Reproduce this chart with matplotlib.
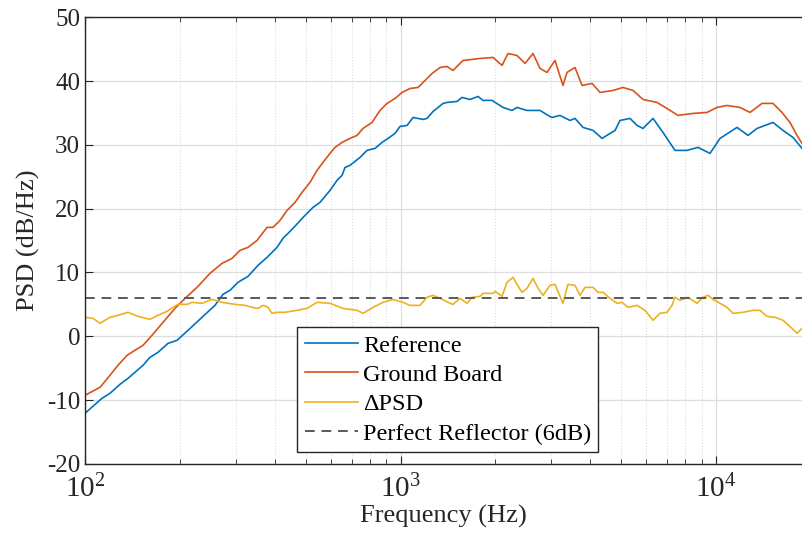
import matplotlib
matplotlib.use("Agg")
import matplotlib.pyplot as plt
import numpy as np
from matplotlib.ticker import LogLocator, FixedLocator, NullFormatter

plt.rcParams['font.family'] = ['Liberation Serif', 'DejaVu Serif']
plt.rcParams['mathtext.fontset'] = 'stix'
plt.rcParams['axes.unicode_minus'] = False

# Reference PSD
ref_f = [100, 113.2, 120.0, 129.1, 136.9, 152.7, 160.7, 170.3, 183.3, 195.7,
         212.1, 234.9, 258.2, 273.8, 288.1, 305.4, 328.6, 353.5, 377.5, 406.0,
         424.2, 456.4, 490.9, 528.1, 555.7, 597.8, 629.2, 652.6, 667.0, 691.8,
         744.2, 783.2, 830.4, 873.8, 913.0, 960.8, 996.3, 1049, 1096, 1179,
         1213, 1268, 1364, 1404, 1511, 1566, 1661, 1761, 1826, 1950,
         2113, 2256, 2340, 2518, 2769, 2934, 3021, 3202, 3445, 3573,
         3789, 4075, 4353, 4511, 4786, 4962, 5339, 5619, 5869, 6314,
         6792, 7413, 8091, 8769, 9572, 10297, 11658, 12630, 13489, 15156,
         16305, 17543, 18731]
ref_db = [-12.06, -9.71, -8.93, -7.52, -6.58, -4.54, -3.29, -2.51, -1.10, -0.63,
          0.94, 2.98, 4.85, 6.58, 7.20, 8.46, 9.40, 11.12, 12.37, 13.94,
          15.35, 16.91, 18.63, 20.20, 20.98, 22.86, 24.43, 25.21, 26.46, 26.78,
          28.03, 29.13, 29.44, 30.38, 31.01, 31.79, 32.88, 33.04, 34.29, 33.98,
          34.14, 35.23, 36.49, 36.64, 36.80, 37.43, 37.11, 37.58, 36.96, 36.96,
          35.86, 35.39, 35.86, 35.39, 35.39, 34.61, 34.29, 34.61, 33.82, 34.14,
          32.73, 32.26, 31.01, 31.48, 32.26, 33.82, 34.14, 33.04, 32.57, 34.14,
          31.94, 29.13, 29.13, 29.60, 28.66, 31.01, 32.73, 31.48, 32.57, 33.51,
          32.26, 31.16, 29.44]

# Ground board PSD
gnd_f = [100, 111.6, 120.0, 127.2, 135.9, 144.0, 152.7, 163.1, 176.7, 192.9,
         207.5, 226.5, 249.0, 271.8, 292.4, 310.0, 328.6, 351.0, 377.5, 394.3,
         415.0, 436.9, 463.1, 487.3, 516.6, 543.7, 568.1, 597.8, 620.1, 652.6,
         691.8, 728.1, 760.6, 812.3, 861.0, 906.3, 960.8, 1011, 1072, 1137,
         1196, 1259, 1334, 1404, 1467, 1578, 1786, 1965, 2098, 2191,
         2340, 2481, 2630, 2769, 2912, 3088, 3273, 3370, 3573, 3762,
         4046, 4290, 4715, 5072, 5457, 5869, 6501, 6993, 7578, 8453,
         9365, 10073, 10837, 11916, 12817, 13990, 15156, 16186, 17161, 18057,
         18731]
gnd_db = [-9.24, -7.99, -6.11, -4.54, -2.98, -2.19, -1.41, 0.16, 2.19, 4.38,
          5.95, 7.67, 9.87, 11.43, 12.21, 13.47, 13.94, 15.03, 17.07, 17.07,
          18.16, 19.73, 20.98, 22.55, 24.12, 25.99, 27.25, 28.66, 29.60, 30.38,
          31.01, 31.48, 32.57, 33.51, 35.39, 36.49, 37.27, 38.21, 38.83, 38.99,
          40.09, 41.18, 42.12, 42.28, 41.65, 43.22, 43.53, 43.69, 42.44, 44.31,
          44.00, 42.75, 44.31, 41.97, 41.34, 43.22, 39.30, 41.34, 42.12, 39.30,
          39.62, 38.21, 38.52, 38.99, 38.52, 37.11, 36.64, 35.70, 34.61, 34.92,
          35.08, 35.86, 36.17, 35.86, 35.08, 36.49, 36.49, 35.08, 33.51, 31.48,
          30.22]

# Difference
dpsd_f = [100, 106.0, 111.6, 120.0, 127.2, 136.9, 147.2, 160.7, 170.3, 181.9,
          190.1, 197.2, 210.5, 218.4, 234.9, 252.6, 271.8, 298.8, 321.5, 338.4,
          353.5, 366.6, 380.2, 391.4, 406.0, 430.5, 469.8, 505.4, 543.7, 597.8,
          657.3, 728.1, 760.6, 818.3, 880.2, 946.9, 1018, 1072, 1153, 1213,
          1268, 1334, 1435, 1467, 1544, 1625, 1685, 1786, 1826, 1965,
          1993, 2098, 2176, 2273, 2340, 2427, 2518, 2630, 2729, 2829,
          2977, 3088, 3273, 3395, 3573, 3707, 3845, 4075, 4227, 4385,
          4613, 4857, 5036, 5261, 5619, 5957, 6314, 6645, 6993, 7253,
          7413, 7690, 8150, 8705, 9094, 9433, 9784, 10297, 10837, 11322,
          12179, 13100, 13788, 14508, 15380, 16305, 17414, 18057, 18731]
dpsd_db = [2.98, 2.82, 2.04, 2.98, 3.29, 3.76, 3.13, 2.66, 3.29, 3.91,
           4.54, 5.01, 5.01, 5.32, 5.17, 5.79, 5.32, 5.01, 4.85, 4.54,
           4.38, 4.85, 4.54, 3.60, 3.76, 3.76, 4.07, 4.38, 5.32, 5.17,
           4.38, 4.07, 3.60, 4.54, 5.32, 5.79, 5.32, 4.85, 4.85, 6.11,
           6.42, 5.95, 5.17, 5.01, 5.95, 5.17, 6.11, 6.26, 6.73, 6.73,
           7.05, 6.26, 8.46, 9.24, 8.14, 6.89, 7.52, 9.08, 7.52, 6.42,
           7.99, 8.14, 5.17, 8.14, 7.99, 6.42, 7.67, 7.67, 6.89, 6.89,
           5.95, 5.17, 5.32, 4.54, 4.85, 4.07, 2.51, 3.60, 3.76, 4.85,
           6.11, 5.64, 6.11, 5.17, 6.11, 6.42, 5.79, 5.17, 4.54, 3.60,
           3.76, 4.07, 4.07, 3.13, 2.98, 2.51, 1.25, 0.47, 1.25]

perfect_db = 6
x_range = [100, 18731]
y_range = [-20, 50]
y_ticks = [-20, -10, 0, 10, 20, 30, 40, 50]

fig = plt.figure(figsize=(8.02, 5.37), dpi=100)
ax = fig.add_axes([0.106, 0.136, 0.894, 0.832])

ax.semilogx(ref_f, ref_db, color='#0072BD', lw=1.2, label='Reference')
ax.semilogx(gnd_f, gnd_db, color='#D95319', lw=1.2, label='Ground Board')
ax.semilogx(dpsd_f, dpsd_db, color='#EDB120', lw=1.2, label='ΔPSD')
ax.axhline(perfect_db, color='#595959', lw=1.4, ls=(0, (5, 3.5)),
           label='Perfect Reflector (6dB)')

ax.set_xlim(x_range)
ax.set_ylim(y_range)
ax.yaxis.set_major_locator(FixedLocator(y_ticks))
ax.xaxis.set_major_locator(LogLocator(base=10))
ax.xaxis.set_minor_locator(LogLocator(base=10, subs=np.arange(2, 10)))
ax.xaxis.set_minor_formatter(NullFormatter())

ax.grid(True, which='major', color='#dedede', lw=0.9)
ax.grid(True, which='minor', axis='x', color='#dcdcdc', lw=0.8, ls=':')
ax.set_axisbelow(True)

for s in ['left', 'top', 'bottom']:
    ax.spines[s].set_color('#262626')
    ax.spines[s].set_linewidth(1.0)
ax.spines['right'].set_visible(False)

ax.tick_params(which='both', direction='in', top=True, right=False,
               colors='#262626', labelsize=18)
ax.tick_params(which='major', length=6)
ax.tick_params(which='minor', length=3.5)
ax.tick_params(axis='x', which='major', pad=8, labelsize=21)

ax.set_xlabel('Frequency (Hz)', fontsize=19, color='#262626', labelpad=1)
ax.set_ylabel('PSD (dB/Hz)', fontsize=19, color='#262626', labelpad=5)

leg = ax.legend(loc='lower left', bbox_to_anchor=(0.296, 0.027),
                borderaxespad=0, fontsize=17.5, fancybox=False, framealpha=1,
                edgecolor='#262626', handlelength=2.2, handletextpad=0.2,
                labelspacing=0.3, borderpad=0.3)
leg.get_frame().set_linewidth(1.0)

fig.savefig('out.png', dpi=100)
